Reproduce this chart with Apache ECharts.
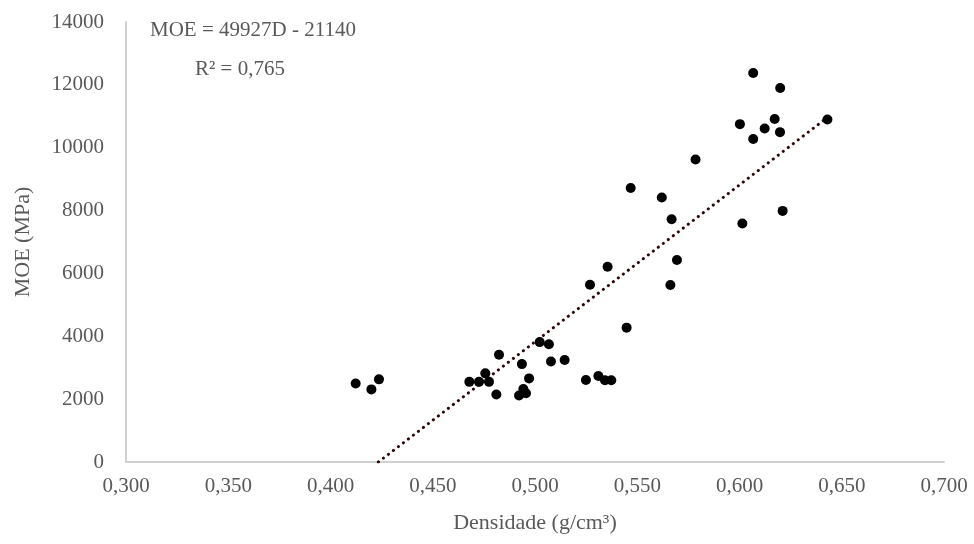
<!DOCTYPE html>
<html>
<head>
<meta charset="utf-8">
<script src="https://cdn.jsdelivr.net/npm/echarts@6/dist/echarts.min.js"></script>
<style>
  html, body { margin: 0; padding: 0; background: #fff; }
  #chart { width: 974px; height: 544px; }
</style>
</head>
<body>
<div id="chart"></div>
<script>
// densidade (g/cm³)
const density = [
  0.4123, 0.4200, 0.4237, 0.4679, 0.4726, 0.4757, 0.4775, 0.4811, 0.4824, 0.4922,
  0.4936, 0.4943, 0.4956, 0.4971, 0.5023, 0.5068, 0.5078, 0.5145, 0.5249, 0.5269,
  0.5310, 0.5342, 0.5373, 0.5355, 0.5448, 0.5468, 0.5620, 0.5662, 0.5668, 0.5694,
  0.5785, 0.6002, 0.6014, 0.6067, 0.6067, 0.6123, 0.6172, 0.6199, 0.6198, 0.6211,
  0.6430
]
// MOE (MPa)
const moe = [
  2500, 2310, 2630, 2550, 2550, 2820, 2550, 2150, 3410, 2115,
  3115, 2320, 2185, 2660, 3815, 3745, 3200, 3245, 2610, 5640,
  2735, 2600, 2600, 6210, 4275, 8720, 8415, 5630, 7725, 6425,
  9625, 10750, 7590, 12380, 10280, 10610, 10915, 11900, 10495, 7990,
  10900
]

// linear fit shown on the chart
const slope = 49927
const intercept = -21140
const eqLabel = 'MOE = 49927D - 21140'
const r2Label = 'R² = 0,765'

const points = density.map((d, i) => [d, moe[i]])
const xStart = -intercept / slope
const xEnd = Math.max(...density)
const trend = [[xStart, 0], [xEnd, slope * xEnd + intercept]]

const font = '"Liberation Serif", "Times New Roman", serif'
const grey = '#595959'

const chart = echarts.init(document.getElementById('chart'))
chart.setOption({
  animation: false,
  grid: { left: 126, right: 30, top: 22, bottom: 82 },
  xAxis: {
    type: 'value',
    min: 0.3,
    max: 0.7,
    interval: 0.05,
    name: 'Densidade (g/cm³)',
    nameLocation: 'middle',
    nameGap: 50,
    nameTextStyle: { fontFamily: font, fontSize: 22, color: grey },
    axisLine: { show: true, lineStyle: { color: '#d0d0d0', width: 2 } },
    axisTick: { show: false },
    splitLine: { show: false },
    axisLabel: {
      fontFamily: font,
      fontSize: 21,
      color: grey,
      margin: 14,
      formatter: (v) => v.toFixed(3).replace('.', ',')
    }
  },
  yAxis: {
    type: 'value',
    min: 0,
    max: 14000,
    interval: 2000,
    name: 'MOE (MPa)',
    nameLocation: 'middle',
    nameGap: 92,
    nameTextStyle: { fontFamily: font, fontSize: 22, color: grey },
    axisLine: { show: true, lineStyle: { color: '#d0d0d0', width: 2 } },
    axisTick: { show: false },
    splitLine: { show: false },
    axisLabel: {
      fontFamily: font,
      fontSize: 21,
      color: grey,
      margin: 22,
      formatter: (v) => String(v)
    }
  },
  graphic: [
    {
      type: 'text', left: 150, top: 20,
      style: { text: eqLabel, font: '21px ' + font, fill: grey }
    },
    {
      type: 'text', left: 195, top: 59,
      style: { text: r2Label, font: '21px ' + font, fill: grey }
    }
  ],
  series: [
    {
      type: 'line',
      data: trend,
      symbol: 'none',
      z: 1,
      lineStyle: { color: '#2e0808', width: 3, type: [0.1, 6.2], cap: 'round' }
    },
    {
      type: 'scatter',
      data: points,
      symbol: 'circle',
      symbolSize: 10,
      z: 2,
      itemStyle: { color: '#000', opacity: 1 }
    }
  ]
})
</script>
</body>
</html>
